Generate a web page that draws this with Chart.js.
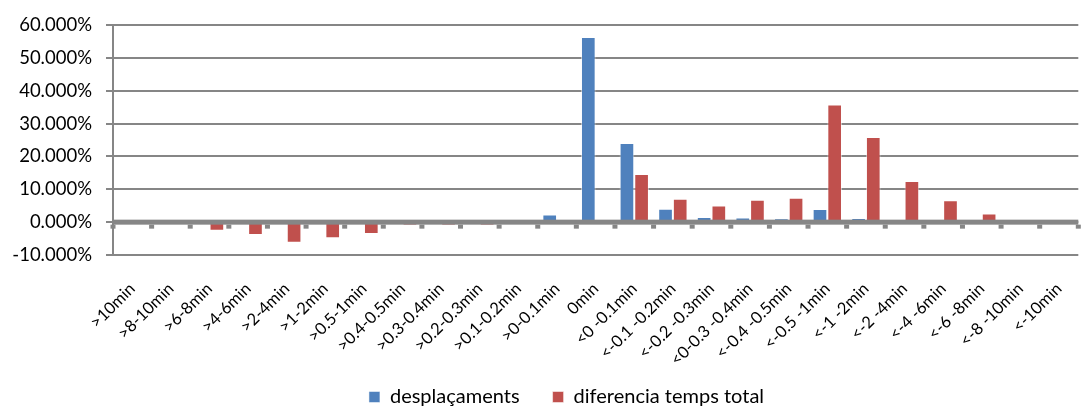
<!DOCTYPE html>
<html>
<head>
<meta charset="utf-8">
<script src="https://cdn.jsdelivr.net/npm/chart.js@4.4.0/dist/chart.umd.min.js"></script>
<style>
html,body{margin:0;padding:0;background:#fff;overflow:hidden;}
#wrap{width:1089px;height:407px;position:relative;}
</style>
</head>
<body>
<div id="wrap"><canvas id="c"></canvas></div>
<script>
const categories = [">10min", ">8-10min", ">6-8min", ">4-6min", ">2-4min", ">1-2min", ">0.5-1min",
  ">0.4-0.5min", ">0.3-0.4min", ">0.2-0.3min", ">0.1-0.2min", ">0-0.1min", "0min",
  "<0 -0.1min", "<-0.1 -0.2min", "<-0.2 -0.3min", "<0-0.3 -0.4min", "<-0.4 -0.5min",
  "<-0.5 -1min", "<-1 -2min", "<-2 -4min", "<-4 -6min", "<-6 -8min", "<-8 -10min", "<-10min"];
const desplacaments = [0, 0, 0, 0, 0, 0, 0, 0, 0, 0, 0, 2.3, 56.4, 24.1, 4.1, 1.6, 1.4, 1.2, 4.0, 1.3, 0, 0, 0, 0, 0];
const diferenciaTempsTotal = [0, -0.6, -2.6, -3.9, -6.3, -4.9, -3.6, -1.0, -1.0, -1.0, -0.7, -0.3, 0, 14.7, 7.1, 5.1, 6.8, 7.4, 35.8, 25.9, 12.5, 6.7, 2.6, 0, 0];
const yMin = -10, yMax = 60, yStep = 10;

const GRID = '#868686';
const FONT = 'Lato';

const zeroAxis = {
  id: 'zeroAxis',
  afterLayout(chart) {
    if (chart.legend) { chart.legend.left += 34; }
  },
  beforeDraw(chart) {
    // let rotated category labels extend below the axis box (no clipping)
    chart.scales.x._computeLabelArea = () => null;
  },
  afterDatasetsDraw(chart) {
    const {ctx, scales: {x, y}} = chart;
    const y0 = y.getPixelForValue(0);
    ctx.save();
    ctx.fillStyle = GRID;
    ctx.fillRect(x.left, y0 - 2.5, x.right - x.left, 5);
    const n = categories.length;
    const w = (x.right - x.left) / n;
    for (let i = 0; i <= n; i++) {
      const px = x.left + i * w;
      ctx.fillRect(px - 2.5, y0 + 2.5, 5, 4);
    }
    ctx.restore();
  }
};

new Chart(document.getElementById('c'), {
  type: 'bar',
  data: {
    labels: categories,
    datasets: [
      {label: 'desplaçaments', data: desplacaments, backgroundColor: '#4F81BD', borderColor: 'rgba(255,255,255,0.5)', borderWidth: 1},
      {label: 'diferencia temps total', data: diferenciaTempsTotal, backgroundColor: '#C0504D', borderColor: 'rgba(255,255,255,0.5)', borderWidth: 1}
    ]
  },
  options: {
    responsive: true,
    maintainAspectRatio: false,
    animation: false,
    layout: {padding: {left: 0, right: -10, top: 24, bottom: -10}},
    datasets: {bar: {categoryPercentage: 0.76, barPercentage: 1.0}},
    plugins: {
      legend: {
        position: 'bottom',
        labels: {font: {family: FONT, size: 20}, color: '#000', boxWidth: 11, boxHeight: 11, padding: 33}
      },
      tooltip: {enabled: false}
    },
    scales: {
      x: {
        grid: {display: false},
        border: {display: false},
        ticks: {
          autoSkip: false, minRotation: 45, maxRotation: 45, padding: 16,
          font: {family: FONT, size: 16.5}, color: '#000'
        },
        afterFit(s) { s.height = 99; }
      },
      y: {
        min: yMin, max: yMax,
        ticks: {
          stepSize: yStep, padding: 14, font: {family: FONT, size: 18.5}, color: '#000',
          callback: v => v.toFixed(3) + '%'
        },
        grid: {color: GRID, lineWidth: 2, tickLength: 7, tickColor: GRID},
        border: {display: true, color: GRID, width: 2},
        afterFit(s) { s.width = 113; }
      }
    }
  },
  plugins: [zeroAxis]
});
</script>
</body>
</html>
